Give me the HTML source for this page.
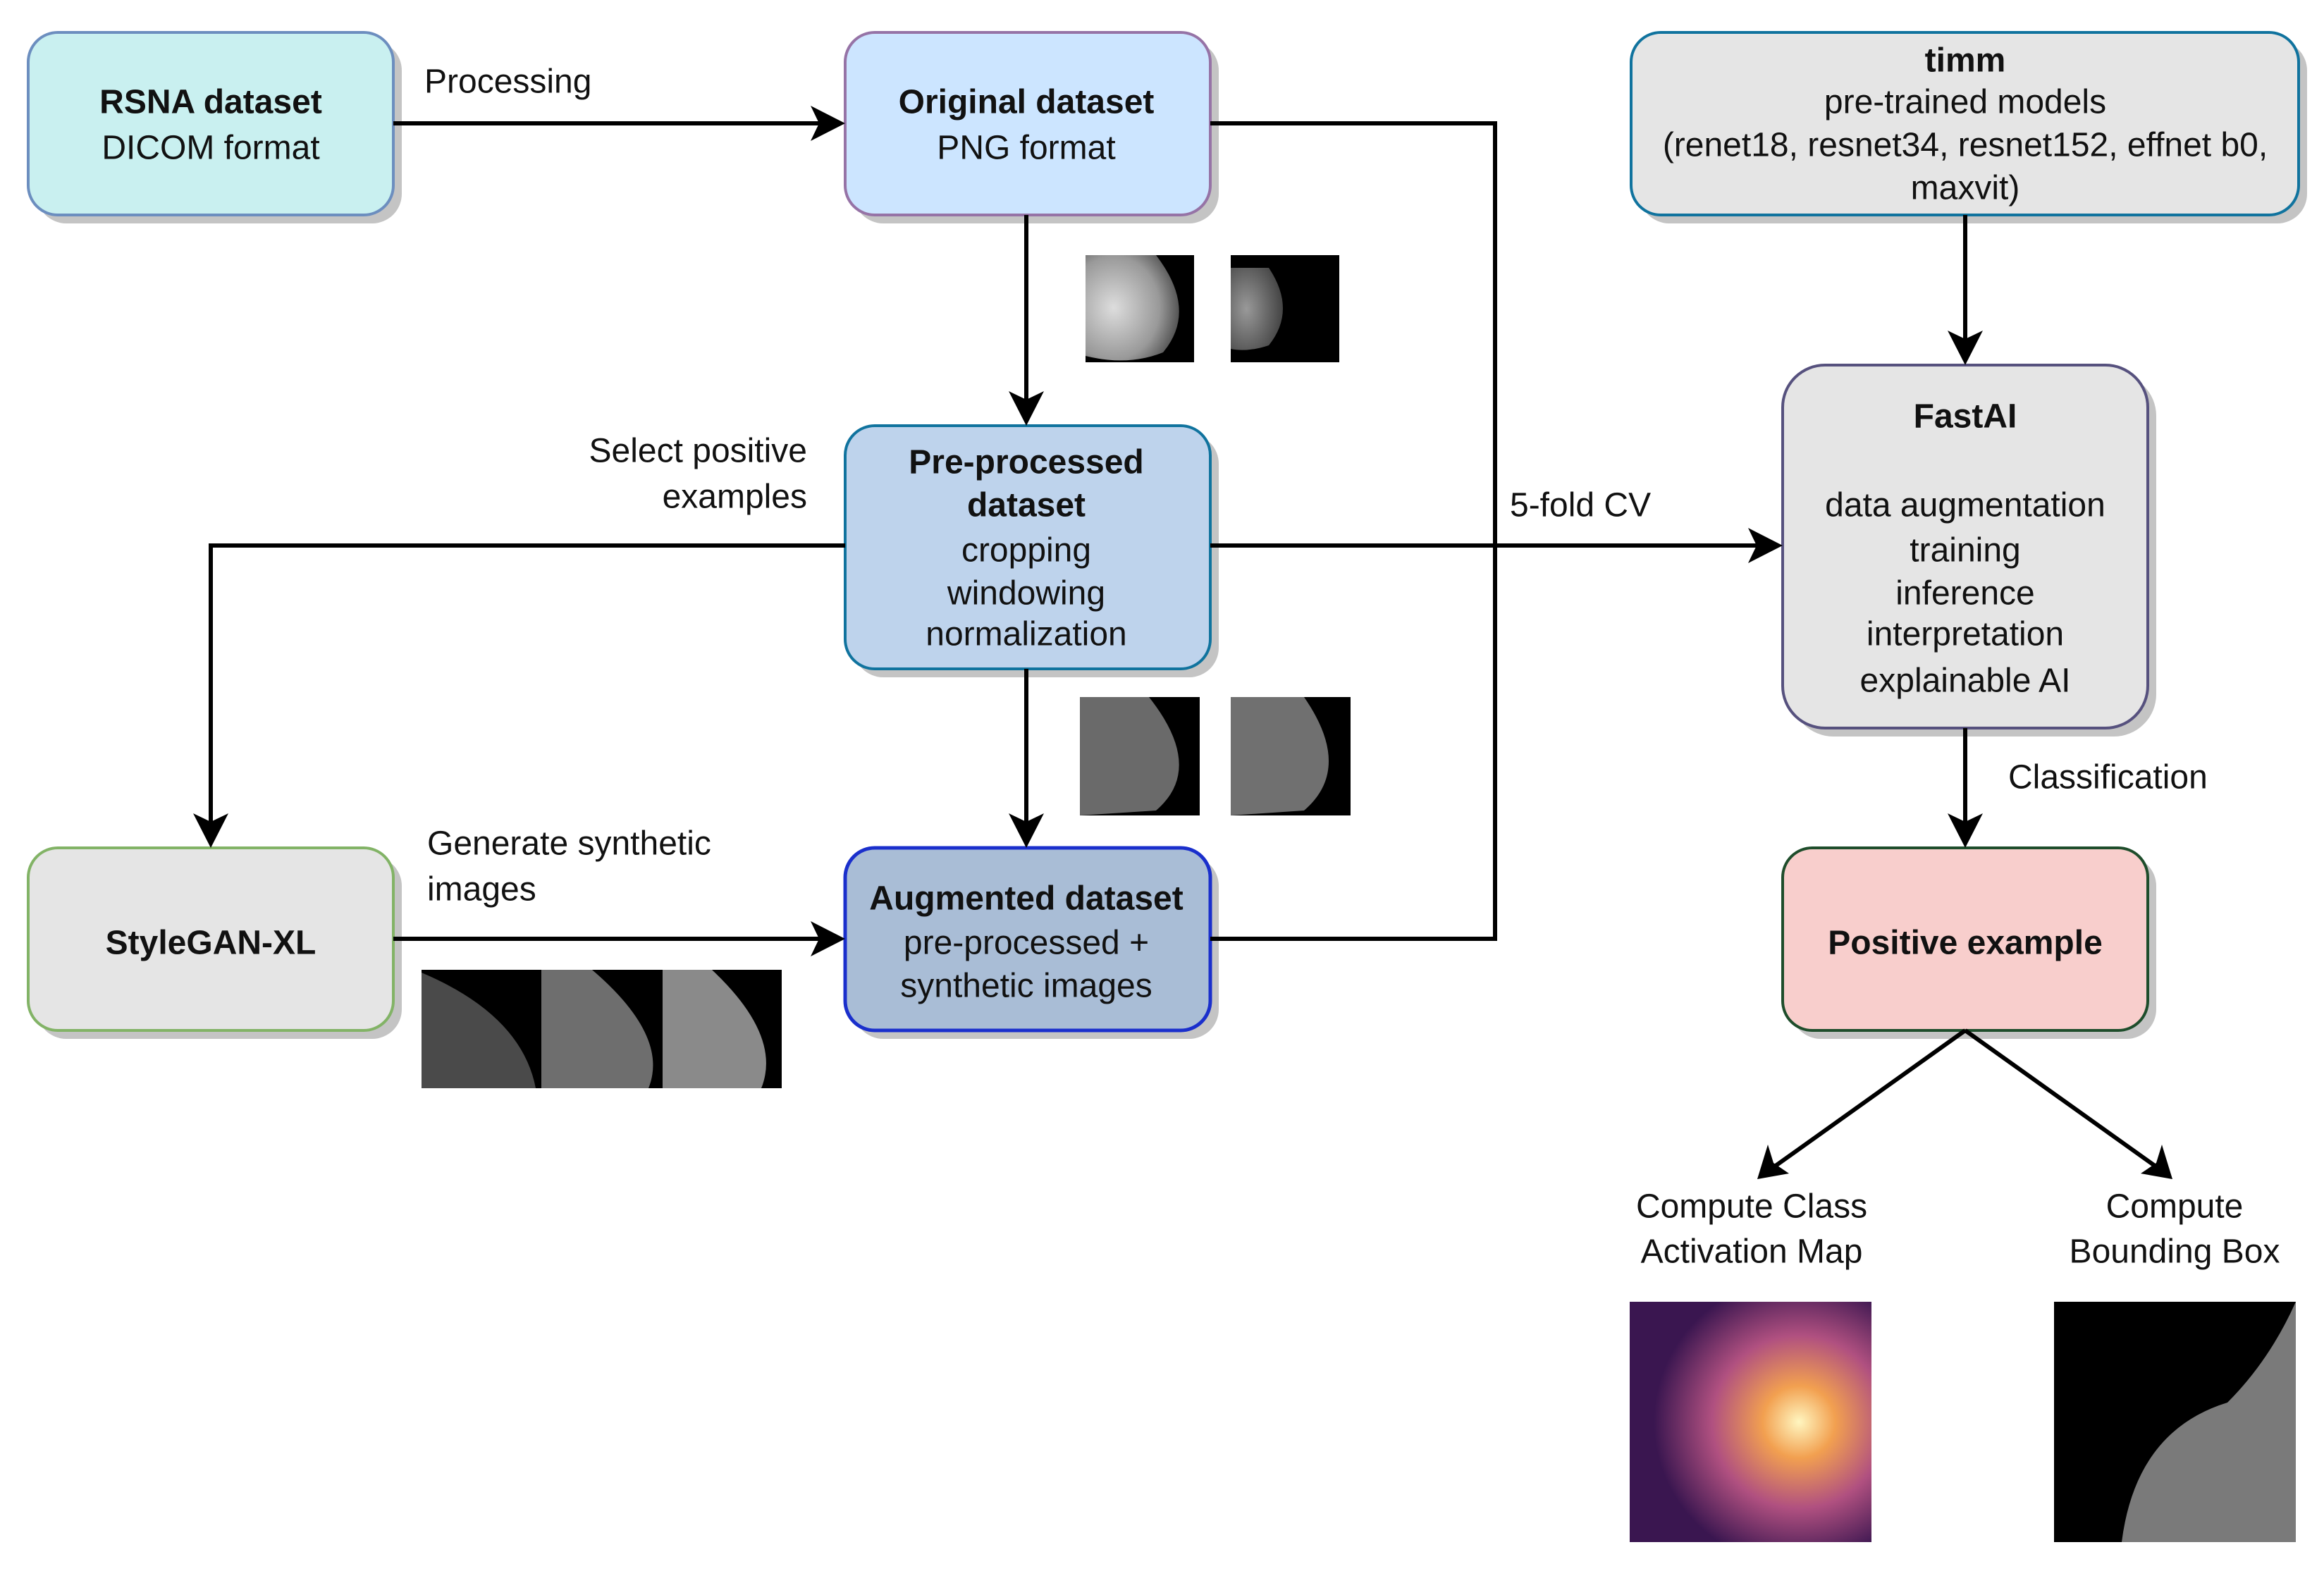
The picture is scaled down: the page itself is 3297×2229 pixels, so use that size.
<!DOCTYPE html>
<html><head><meta charset="utf-8"><style>
html,body{margin:0;padding:0;background:#fff;}
svg{display:block;}
text{font-family:"Liberation Sans",sans-serif;font-size:48px;fill:#111;}
.b{font-weight:bold;}
</style></head><body>
<svg width="3297" height="2229" viewBox="0 0 3297 2229" xmlns="http://www.w3.org/2000/svg">
<defs>
<marker id="ar" markerWidth="10" markerHeight="10" refX="9" refY="5" orient="auto" markerUnits="userSpaceOnUse" viewBox="0 0 10 10">
</marker>
<radialGradient id="br" cx="0.3" cy="0.5" r="0.7"><stop offset="0" stop-color="#ddd"/><stop offset="0.7" stop-color="#999"/><stop offset="1" stop-color="#555"/></radialGradient>
<radialGradient id="br2" cx="0.3" cy="0.5" r="0.7"><stop offset="0" stop-color="#999"/><stop offset="1" stop-color="#444"/></radialGradient>
<radialGradient id="cam" cx="0.7" cy="0.5" r="0.6"><stop offset="0" stop-color="#fff6c0"/><stop offset="0.25" stop-color="#f2a050"/><stop offset="0.6" stop-color="#b05080"/><stop offset="1" stop-color="#3a1650"/></radialGradient>
</defs>
<!-- shadows -->
<g fill="#c4c4c4">
<rect x="52" y="58" width="518" height="259" rx="42"/>
<rect x="1211" y="58" width="518" height="259" rx="42"/>
<rect x="1211" y="616" width="518" height="345" rx="42"/>
<rect x="52" y="1215" width="518" height="259" rx="42"/>
<rect x="1211" y="1215" width="518" height="259" rx="42"/>
<rect x="2326" y="58" width="947" height="259" rx="42"/>
<rect x="2541" y="530" width="518" height="515" rx="60"/>
<rect x="2541" y="1215" width="518" height="259" rx="42"/>
</g>
<!-- boxes -->
<rect x="40" y="46" width="518" height="259" rx="42" fill="#c9f0f0" stroke="#6c8ebf" stroke-width="4"/>
<rect x="1199" y="46" width="518" height="259" rx="42" fill="#cce5ff" stroke="#9673a6" stroke-width="4"/>
<rect x="1199" y="604" width="518" height="345" rx="42" fill="#bed3ec" stroke="#10739e" stroke-width="4"/>
<rect x="40" y="1203" width="518" height="259" rx="42" fill="#e5e5e5" stroke="#82b366" stroke-width="4"/>
<rect x="1199" y="1203" width="518" height="259" rx="42" fill="#a9bdd6" stroke="#1a2fcc" stroke-width="5"/>
<rect x="2314" y="46" width="947" height="259" rx="42" fill="#e5e5e5" stroke="#10739e" stroke-width="4"/>
<rect x="2529" y="518" width="518" height="515" rx="60" fill="#e5e5e5" stroke="#56517e" stroke-width="4"/>
<rect x="2529" y="1203" width="518" height="259" rx="42" fill="#f8cecc" stroke="#1e4d2b" stroke-width="4"/>
<!-- connectors -->
<g stroke="#000" stroke-width="6" fill="none">
<path d="M558 175 H1175"/>
<path d="M1456 305 V580"/>
<path d="M1717 175 H2121 V1332 H1717"/>
<path d="M1717 774 H2505"/>
<path d="M1199 774 H299 V1180"/>
<path d="M1456 949 V1180"/>
<path d="M558 1332 H1175"/>
<path d="M2788 305 V495"/>
<path d="M2788 1033 V1180"/>
<path d="M2788 1462 L2512 1659"/>
<path d="M2788 1462 L3064 1659"/>
</g>
<g fill="#000">
<path d="M1199 175 L1150 150 L1162 175 L1150 200 Z"/>
<path d="M1456 604 L1431 555 L1456 567 L1481 555 Z"/>
<path d="M2529 774 L2480 749 L2492 774 L2480 799 Z"/>
<path d="M299 1203 L274 1154 L299 1166 L324 1154 Z"/>
<path d="M1456 1203 L1431 1154 L1456 1166 L1481 1154 Z"/>
<path d="M1199 1332 L1150 1307 L1162 1332 L1150 1357 Z"/>
<path d="M2788 518 L2763 469 L2788 481 L2813 469 Z"/>
<path d="M2788 1203 L2763 1154 L2788 1166 L2813 1154 Z"/>
<path d="M2493 1673 L2508 1624 L2516 1650 L2538 1665 Z"/>
<path d="M3082 1673 L3067 1624 L3059 1650 L3037 1665 Z"/>
</g>
<!-- box text -->
<g text-anchor="middle" dominant-baseline="central">
<text x="299" y="145" class="b">RSNA dataset</text>
<text x="299" y="210">DICOM format</text>
<text x="1456" y="145" class="b">Original dataset</text>
<text x="1456" y="210">PNG format</text>
<text x="1456" y="656" class="b">Pre-processed</text>
<text x="1456" y="717" class="b">dataset</text>
<text x="1456" y="781">cropping</text>
<text x="1456" y="842">windowing</text>
<text x="1456" y="900">normalization</text>
<text x="299" y="1338" class="b">StyleGAN-XL</text>
<text x="1456" y="1275" class="b">Augmented dataset</text>
<text x="1456" y="1338">pre-processed +</text>
<text x="1456" y="1399">synthetic images</text>
<text x="2788" y="86" class="b">timm</text>
<text x="2788" y="145">pre-trained models</text>
<text x="2788" y="206">(renet18, resnet34, resnet152, effnet b0,</text>
<text x="2788" y="267">maxvit)</text>
<text x="2788" y="591" class="b">FastAI</text>
<text x="2788" y="717">data augmentation</text>
<text x="2788" y="781">training</text>
<text x="2788" y="842">inference</text>
<text x="2788" y="900">interpretation</text>
<text x="2788" y="966">explainable AI</text>
<text x="2788" y="1338" class="b">Positive example</text>
<text x="2485" y="1712">Compute Class</text>
<text x="2485" y="1776">Activation Map</text>
<text x="3085" y="1712">Compute</text>
<text x="3085" y="1776">Bounding Box</text>
</g>
<g dominant-baseline="central">
<text x="602" y="116">Processing</text>
<text x="1145" y="640" text-anchor="end">Select positive</text>
<text x="1145" y="705" text-anchor="end">examples</text>
<text x="2142" y="717">5-fold CV</text>
<text x="606" y="1197">Generate synthetic</text>
<text x="606" y="1262">images</text>
<text x="2849" y="1103">Classification</text>
</g>
<!-- thumbnails -->
<rect x="1540" y="362" width="154" height="152" fill="#000"/>
<path d="M1540 362 H1640 Q1700 440 1650 500 Q1600 520 1540 505 Z" fill="url(#br)"/>
<rect x="1746" y="362" width="154" height="152" fill="#000"/>
<path d="M1746 380 H1800 Q1840 440 1800 490 Q1770 500 1746 495 Z" fill="url(#br2)"/>
<rect x="1532" y="989" width="170" height="168" fill="#000"/>
<path d="M1532 989 H1630 Q1710 1090 1640 1150 L1532 1157 Z" fill="#6a6a6a"/>
<rect x="1746" y="989" width="170" height="168" fill="#000"/>
<path d="M1746 989 H1850 Q1920 1090 1850 1150 L1746 1157 Z" fill="#707070"/>
<rect x="598" y="1376" width="511" height="168" fill="#000"/>
<path d="M598 1380 Q740 1440 760 1544 L598 1544 Z" fill="#4a4a4a"/>
<path d="M768 1376 H840 Q950 1470 920 1544 L768 1544 Z" fill="#6e6e6e"/>
<path d="M940 1376 H1010 Q1110 1470 1080 1544 L940 1544 Z" fill="#8a8a8a"/>
<rect x="2312" y="1847" width="343" height="341" fill="url(#cam)"/>
<rect x="2914" y="1847" width="343" height="341" fill="#000"/>
<path d="M3257 1847 V2188 H3010 Q3030 2030 3160 1990 Q3220 1930 3257 1847 Z" fill="#7a7a7a"/>
</svg>
</body></html>
